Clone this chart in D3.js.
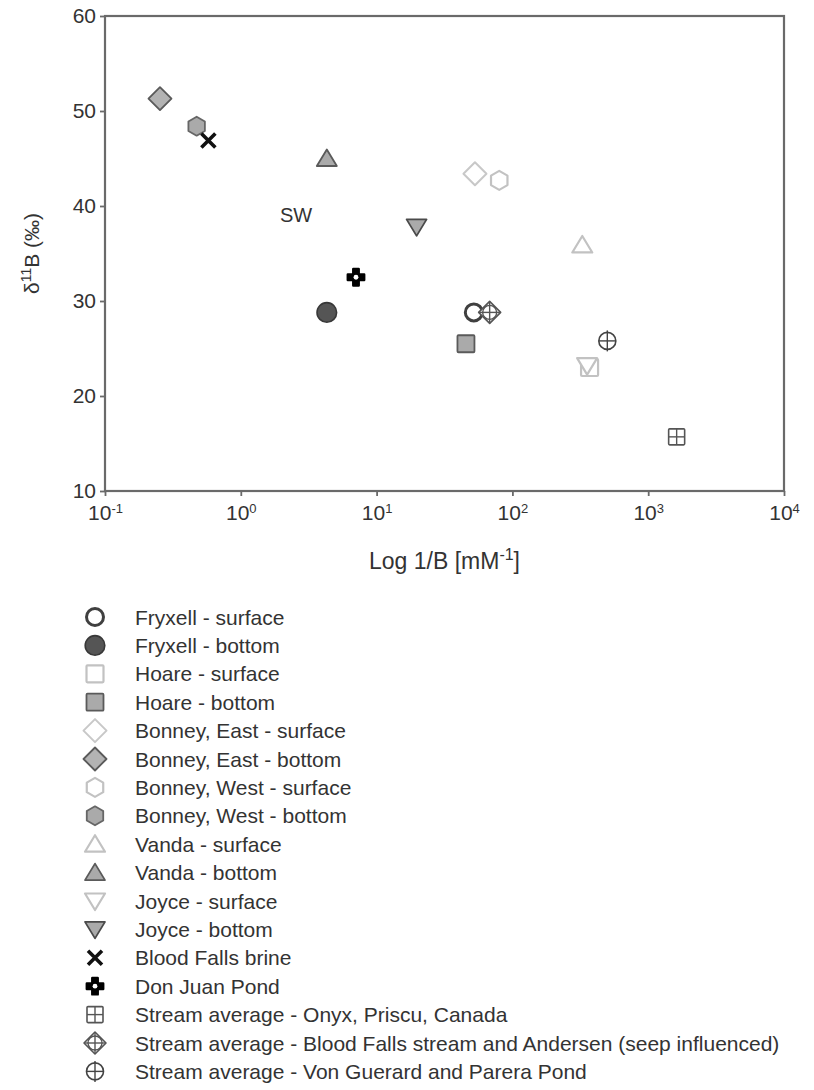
<!DOCTYPE html>
<html>
<head>
<meta charset="utf-8">
<script src="https://cdn.jsdelivr.net/npm/d3@7"></script>
<style>
  body { margin: 0; background: #fff; }
  text { font-family: Arial, "Liberation Sans", sans-serif; fill: #333; }
</style>
</head>
<body>
<script>
// data
var seriesNames = [
  'Fryxell - surface', 'Fryxell - bottom',
  'Hoare - surface', 'Hoare - bottom',
  'Bonney, East - surface', 'Bonney, East - bottom',
  'Bonney, West - surface', 'Bonney, West - bottom',
  'Vanda - surface', 'Vanda - bottom',
  'Joyce - surface', 'Joyce - bottom',
  'Blood Falls brine', 'Don Juan Pond',
  'Stream average - Onyx, Priscu, Canada',
  'Stream average - Blood Falls stream and Andersen (seep influenced)',
  'Stream average - Von Guerard and Parera Pond'
]
var xValues = [52, 4.3, 370, 45.5, 53, 0.254, 80, 0.473, 327, 4.3, 355, 19.7, 0.577, 7.05, 1620, 68, 500]
var yValues = [28.8, 28.8, 23.0, 25.5, 43.4, 51.3, 42.7, 48.4, 35.9, 45.0, 23.2, 37.8, 46.9, 32.5, 15.7, 28.8, 25.8]

var xTickValues = [0.1, 1, 10, 100, 1000, 10000]
var xTickExponents = ['-1', '0', '1', '2', '3', '4']
var yTickValues = [10, 20, 30, 40, 50, 60]

var noteText = ['SW']
var noteX = [2.55]
var noteY = [38.3]

// marker look per series (same order as seriesNames)
var markerShape = ['circle', 'circle', 'square', 'square', 'diamond', 'diamond', 'hexagon', 'hexagon',
  'triUp', 'triUp', 'triDown', 'triDown', 'cross', 'cog', 'gridSquare', 'diamondCross', 'circleCross']
var markerFill = ['#fff', '#555', '#fff', '#aaa', '#fff', '#b3b3b3', '#fff', '#aaa',
  '#fff', '#aaa', '#fff', '#aaa', 'none', '#000', '#fff', '#fff', '#fff']
var markerStroke = ['#404040', '#383838', '#c2c2c2', '#5a5a5a', '#c8c8c8', '#5a5a5a', '#c2c2c2', '#666',
  '#c2c2c2', '#5a5a5a', '#c2c2c2', '#4a4a4a', '#111', '#000', '#555', '#555', '#444']
var markerWidth = [3, 1.6, 2.2, 1.8, 2, 1.8, 2.2, 1.8, 2.2, 1.8, 2.2, 1.8, 3.6, 2, 1.6, 1.6, 1.6]

var W = 814, H = 1090
var plotLeft = 105, plotRight = 784, plotTop = 16, plotBottom = 491

var svg = d3.select('body').append('svg')
    .attr('width', W)
    .attr('height', H)

var x = d3.scaleLog().domain([0.1, 10000]).range([plotLeft, plotRight])
var y = d3.scaleLinear().domain([10, 60]).range([plotBottom, plotTop])

//frame
svg.append('rect')
    .attr('x', plotLeft).attr('y', plotTop)
    .attr('width', plotRight - plotLeft).attr('height', plotBottom - plotTop)
    .attr('fill', 'none').attr('stroke', '#6a6a6a').attr('stroke-width', 2.2)

var xAxis = svg.append('g')
    .attr('transform', 'translate(0,' + plotBottom + ')')
    .call(d3.axisBottom(x).tickValues(xTickValues).tickSize(5).tickPadding(9).tickFormat(''))
var yAxis = svg.append('g')
    .attr('transform', 'translate(' + plotLeft + ',0)')
    .call(d3.axisLeft(y).tickValues(yTickValues).tickSize(5).tickPadding(4))

;[xAxis, yAxis].forEach(function(a) {
    a.select('.domain').remove()
    a.selectAll('line').attr('stroke', '#6a6a6a').attr('stroke-width', 1.8)
    a.selectAll('text').style('font-size', '21px').attr('fill', '#333')
})

//powers of ten with superscripts
xAxis.selectAll('.tick text').each(function(d, i) {
    var t = d3.select(this)
    t.append('tspan').text('10')
    t.append('tspan').attr('dy', '-0.5em').style('font-size', '13px').text(xTickExponents[i])
})

//axis titles
var xt = svg.append('text')
    .attr('x', (plotLeft + plotRight) / 2)
    .attr('y', 569)
    .attr('text-anchor', 'middle')
    .style('font-size', '23px')
xt.append('tspan').text('Log 1/B [mM')
xt.append('tspan').attr('dy', -9).style('font-size', '16px').text('-1')
xt.append('tspan').attr('dy', 9).text(']')

var yt = svg.append('text')
    .attr('transform', 'translate(39,' + ((plotTop + plotBottom) / 2) + ') rotate(-90)')
    .attr('text-anchor', 'middle')
    .style('font-size', '21px')
yt.append('tspan').text('\u03b4')
yt.append('tspan').attr('dy', -8).style('font-size', '14px').text('11')
yt.append('tspan').attr('dy', 8).text('B (\u2030)')

svg.selectAll('.note')
    .data(noteText)
    .enter()
    .append('text')
    .attr('class', 'note')
    .attr('x', function(d, i) { return x(noteX[i]) })
    .attr('y', function(d, i) { return y(noteY[i]) })
    .attr('text-anchor', 'middle')
    .style('font-size', '20px')
    .text(function(d) { return d })

//marker drawing
function drawMarker(g, i) {
    var shape = markerShape[i]
    var f = markerFill[i], s = markerStroke[i], sw = markerWidth[i]
    function style(sel) {
        return sel.attr('fill', f).attr('stroke', s).attr('stroke-width', sw).attr('stroke-linejoin', 'round')
    }
    function line(x1, y1, x2, y2) {
        g.append('line').attr('x1', x1).attr('y1', y1).attr('x2', x2).attr('y2', y2)
            .attr('stroke', s).attr('stroke-width', 1.4)
    }
    if (shape == 'circle') {
        style(g.append('circle').attr('r', f == '#fff' ? 8.5 : 9.8))
    } else if (shape == 'square') {
        style(g.append('rect').attr('x', -8.5).attr('y', -8.5).attr('width', 17).attr('height', 17).attr('rx', 1))
    } else if (shape == 'diamond') {
        style(g.append('path').attr('d', 'M0,-11.5L11.5,0L0,11.5L-11.5,0Z'))
    } else if (shape == 'hexagon') {
        var pts = d3.range(6).map(function(k) {
            var a = Math.PI / 3 * k - Math.PI / 2
            return [9.5 * Math.cos(a), 9.5 * Math.sin(a)]
        })
        style(g.append('path').attr('d', 'M' + pts.join('L') + 'Z'))
    } else if (shape == 'triUp') {
        style(g.append('path').attr('d', 'M0,-9L10,7.5L-10,7.5Z'))
    } else if (shape == 'triDown') {
        style(g.append('path').attr('d', 'M0,9L10,-7.5L-10,-7.5Z'))
    } else if (shape == 'cross') {
        g.append('path').attr('d', 'M-7,-7L7,7M-7,7L7,-7')
            .attr('stroke', s).attr('stroke-width', sw).attr('fill', 'none')
    } else if (shape == 'cog') {
        g.append('path').attr('d', d3.symbol().type(d3.symbolCross).size(150)())
            .attr('fill', '#000').attr('stroke', '#000').attr('stroke-width', 2.4).attr('stroke-linejoin', 'round')
        g.append('circle').attr('r', 4.6).attr('fill', '#000')
        g.append('circle').attr('r', 2.4).attr('fill', '#fff')
    } else if (shape == 'gridSquare') {
        style(g.append('rect').attr('x', -8).attr('y', -8).attr('width', 16).attr('height', 16).attr('rx', 1))
        line(-8, 0, 8, 0)
        line(0, -8, 0, 8)
    } else if (shape == 'diamondCross') {
        style(g.append('path').attr('d', 'M0,-11L11,0L0,11L-11,0Z'))
        g.append('circle').attr('r', 7).attr('fill', 'none').attr('stroke', s).attr('stroke-width', 1.4)
        line(-11, 0, 11, 0)
        line(0, -11, 0, 11)
    } else if (shape == 'circleCross') {
        style(g.append('circle').attr('r', 8.5))
        line(-8.5, 0, 8.5, 0)
        line(0, -10.5, 0, 10.5)
    }
}

//points
svg.selectAll('.pt')
    .data(seriesNames)
    .enter()
    .append('g')
    .attr('class', 'pt')
    .attr('transform', function(d, i) { return 'translate(' + x(xValues[i]) + ',' + y(yValues[i]) + ')' })
    .each(function(d, i) { drawMarker(d3.select(this), i) })

//legend
var legend = svg.selectAll('.leg')
    .data(seriesNames)
    .enter()
    .append('g')
    .attr('class', 'leg')
    .attr('transform', function(d, i) { return 'translate(95,' + (617 + i * 28.4) + ')' })

legend.each(function(d, i) { drawMarker(d3.select(this), i) })

legend.append('text')
    .attr('x', 40)
    .attr('dy', '0.36em')
    .style('font-size', '21px')
    .text(function(d) { return d })
</script>
</body>
</html>
